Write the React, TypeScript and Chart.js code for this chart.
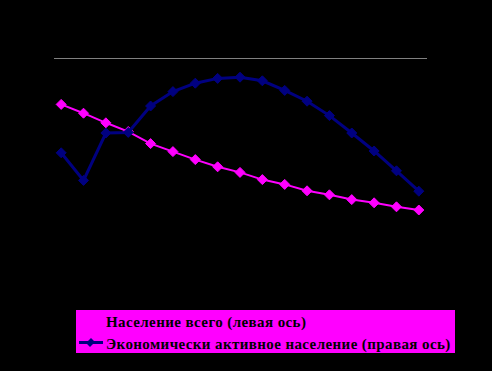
import React, { useEffect, useRef } from "react";
import { Chart, registerables } from "chart.js";

Chart.register(...registerables);

const years = [
  "2005", "2006", "2007", "2008", "2009", "2010", "2011", "2012", "2013",
  "2014", "2015", "2016", "2017", "2018", "2019", "2020", "2021",
];

// Население всего, млн чел. (левая ось)
const populationTotal = [
  144.2, 143.1, 141.9, 140.8, 139.3, 138.3, 137.3, 136.4, 135.7,
  134.8, 134.2, 133.4, 132.9, 132.3, 131.9, 131.4, 131.0,
];

// Экономически активное население, млн чел. (правая ось)
const economicallyActive = [
  72.1, 69.8, 73.75, 73.8, 76.0, 77.2, 77.9, 78.3, 78.4,
  78.1, 77.3, 76.4, 75.2, 73.75, 72.25, 70.6, 68.9,
];

const leftAxisRange = [120, 150];
const rightAxisRange = [60, 80];

const labelTotal = "Население всего (левая ось)";
const labelActive = "Экономически активное население (правая ось)";

const MAGENTA = "#FF00FF";
const NAVY = "#000080";

const topBorderPlugin = {
  id: "topBorder",
  afterDraw(chart: any) {
    const { ctx, chartArea } = chart;
    ctx.save();
    ctx.strokeStyle = "#808080";
    ctx.lineWidth = 1;
    ctx.beginPath();
    ctx.moveTo(chartArea.left + 4, chartArea.top + 0.5);
    ctx.lineTo(chartArea.right - 3, chartArea.top + 0.5);
    ctx.stroke();
    ctx.restore();
  },
};

export default function App() {
  const canvasRef = useRef<HTMLCanvasElement | null>(null);

  useEffect(() => {
    const canvas = canvasRef.current;
    if (!canvas) return;
    const chart = new Chart(canvas, {
      type: "line",
      data: {
        labels: years,
        datasets: [
          {
            label: labelTotal,
            data: populationTotal,
            yAxisID: "yLeft",
            borderColor: MAGENTA,
            backgroundColor: MAGENTA,
            borderWidth: 2,
            pointStyle: "rectRot",
            pointRadius: 5,
            pointBorderWidth: 1,
            pointBorderColor: MAGENTA,
            pointBackgroundColor: MAGENTA,
            tension: 0,
            order: 1,
          },
          {
            label: labelActive,
            data: economicallyActive,
            yAxisID: "yRight",
            borderColor: NAVY,
            backgroundColor: NAVY,
            borderWidth: 3,
            pointStyle: "rectRot",
            pointRadius: 5,
            pointBorderWidth: 1,
            pointBorderColor: NAVY,
            pointBackgroundColor: NAVY,
            tension: 0,
            order: 0,
          },
        ],
      },
      options: {
        responsive: false,
        animation: false,
        layout: { padding: { left: 50, right: 62, top: 58, bottom: 73 } },
        plugins: {
          legend: { display: false },
          tooltip: { enabled: false },
          title: { display: false },
        },
        scales: {
          x: { type: "category", offset: true, display: false },
          yLeft: {
            type: "linear",
            position: "left",
            min: leftAxisRange[0],
            max: leftAxisRange[1],
            display: false,
          },
          yRight: {
            type: "linear",
            position: "right",
            min: rightAxisRange[0],
            max: rightAxisRange[1],
            display: false,
          },
        },
      },
      plugins: [topBorderPlugin],
    });
    return () => chart.destroy();
  }, []);

  const textStyle: React.CSSProperties = {
    position: "absolute",
    left: 30,
    fontFamily: '"Liberation Serif", "Times New Roman", serif',
    fontSize: 15,
    fontWeight: "bold",
    lineHeight: "15px",
    letterSpacing: "0.4px",
    color: "#000",
    whiteSpace: "nowrap",
  };

  return (
    <div
      style={{
        position: "absolute",
        left: 0,
        top: 0,
        width: 492,
        height: 371,
        background: "#000",
        overflow: "hidden",
      }}
    >
      <canvas ref={canvasRef} width={492} height={371} style={{ display: "block" }} />
      <div
        style={{
          position: "absolute",
          left: 76,
          top: 310,
          width: 379,
          height: 43,
          background: MAGENTA,
        }}
      >
        <div style={{ ...textStyle, top: 5 }}>{labelTotal}</div>
        <div
          style={{
            position: "absolute",
            left: 3,
            top: 31,
            width: 24,
            height: 3,
            background: NAVY,
          }}
        />
        <div
          style={{
            position: "absolute",
            left: 11,
            top: 29,
            width: 7,
            height: 7,
            background: NAVY,
            transform: "rotate(45deg) scaleX(0.8)",
          }}
        />
        <div style={{ ...textStyle, top: 27 }}>{labelActive}</div>
      </div>
    </div>
  );
}
